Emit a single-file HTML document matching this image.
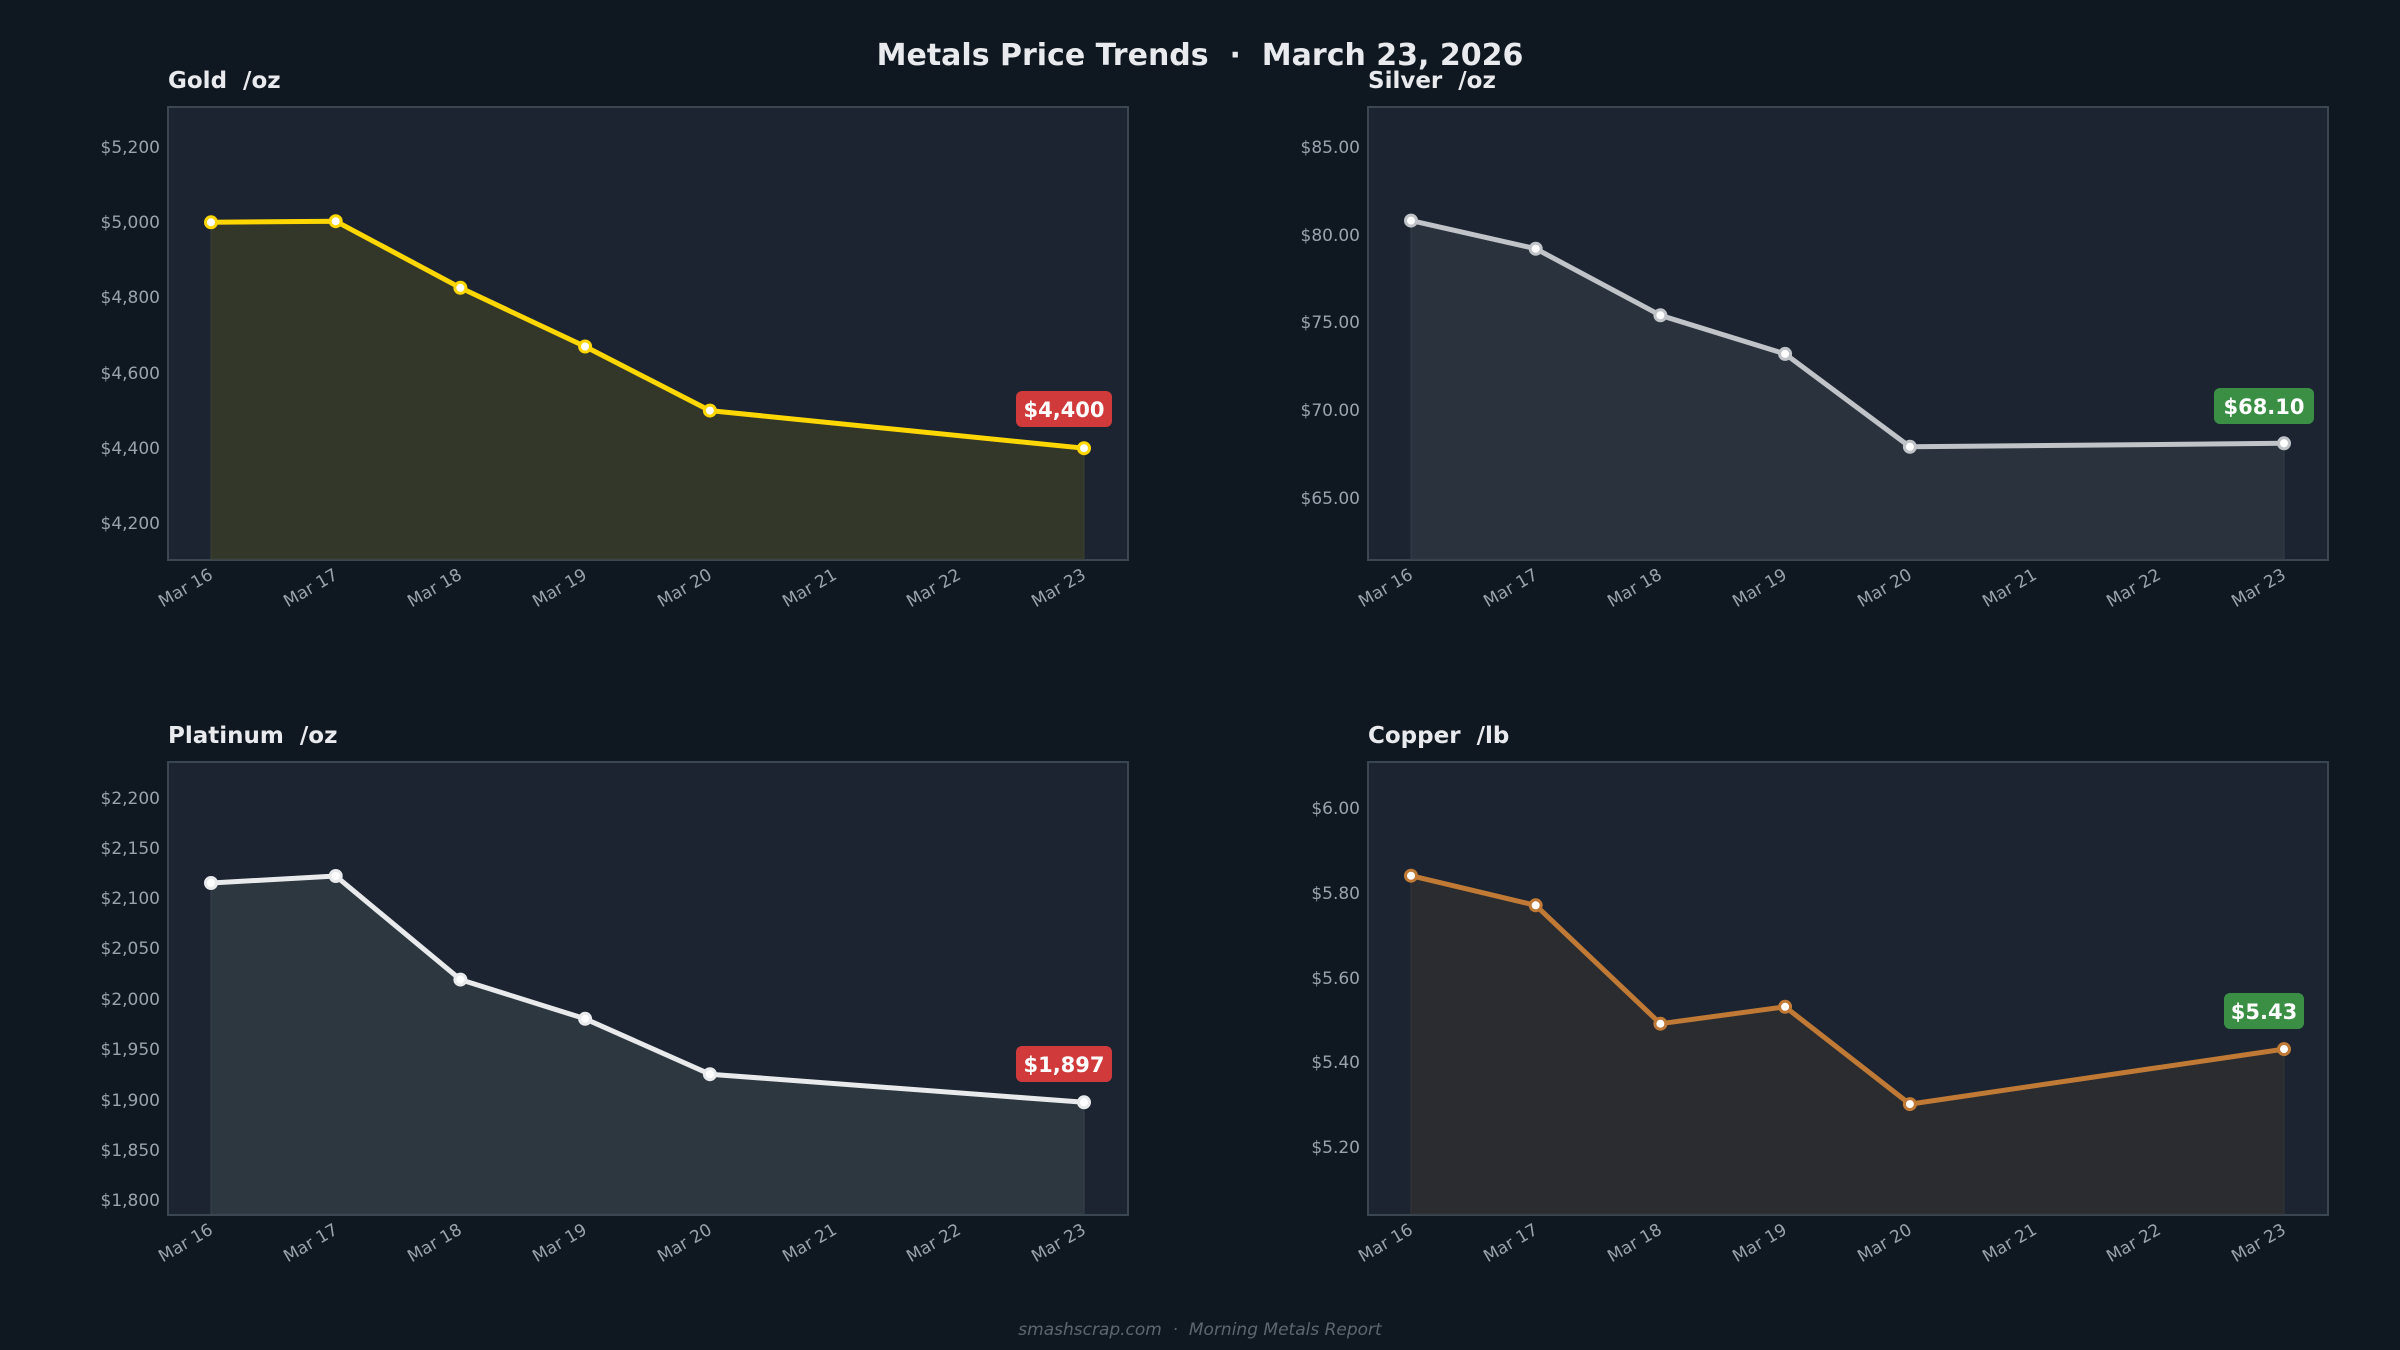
<!DOCTYPE html>
<html><head><meta charset="utf-8"><style>
html,body{margin:0;padding:0;background:#0f1720;}
svg{display:block;}
text{font-family:"DejaVu Sans","Liberation Sans",sans-serif;white-space:pre;}
</style></head><body>
<svg width="2400" height="1350" viewBox="0 0 2400 1350" xmlns="http://www.w3.org/2000/svg" xml:space="preserve">
<rect width="2400" height="1350" fill="#0f1720"/>
<text x="1200" y="65" text-anchor="middle" font-size="30" font-weight="bold" fill="#e8eaed">Metals Price Trends  ·  March 23, 2026</text>
<g fill="#1b2430" stroke="#3a4652" stroke-width="2">
<rect x="168" y="107" width="960" height="453"/>
<rect x="1368" y="107" width="960" height="453"/>
<rect x="168" y="762" width="960" height="453"/>
<rect x="1368" y="762" width="960" height="453"/>
</g>
<g font-size="23" font-weight="bold" fill="#e8eaed">
<text x="168" y="88">Gold  /oz</text>
<text x="1368" y="88">Silver  /oz</text>
<text x="168" y="743">Platinum  /oz</text>
<text x="1368" y="743">Copper  /lb</text>
</g>
<g font-size="17" fill="#9aa3ad" text-anchor="end">
<text x="160" y="153">$5,200</text><text x="160" y="228">$5,000</text><text x="160" y="303">$4,800</text><text x="160" y="379">$4,600</text><text x="160" y="454">$4,400</text><text x="160" y="529">$4,200</text>
<text x="1360" y="153">$85.00</text><text x="1360" y="241">$80.00</text><text x="1360" y="328">$75.00</text><text x="1360" y="416">$70.00</text><text x="1360" y="504">$65.00</text>
<text x="160" y="804">$2,200</text><text x="160" y="854">$2,150</text><text x="160" y="904">$2,100</text><text x="160" y="954">$2,050</text><text x="160" y="1005">$2,000</text><text x="160" y="1055">$1,950</text><text x="160" y="1106">$1,900</text><text x="160" y="1156">$1,850</text><text x="160" y="1206">$1,800</text>
<text x="1360" y="814">$6.00</text><text x="1360" y="899">$5.80</text><text x="1360" y="984">$5.60</text><text x="1360" y="1068">$5.40</text><text x="1360" y="1153">$5.20</text>
</g>
<g font-size="17" fill="#9aa3ad" text-anchor="end">
<g id="xl">
<text transform="translate(214,578) rotate(-30)">Mar 16</text>
<text transform="translate(339,578) rotate(-30)">Mar 17</text>
<text transform="translate(463,578) rotate(-30)">Mar 18</text>
<text transform="translate(588,578) rotate(-30)">Mar 19</text>
<text transform="translate(713,578) rotate(-30)">Mar 20</text>
<text transform="translate(838,578) rotate(-30)">Mar 21</text>
<text transform="translate(962,578) rotate(-30)">Mar 22</text>
<text transform="translate(1087,578) rotate(-30)">Mar 23</text>
</g>
<use href="#xl" x="1200" y="0"/>
<use href="#xl" x="0" y="655"/>
<use href="#xl" x="1200" y="655"/>
</g>
<polygon points="211,222.3 335.7,221.2 460.4,287.8 585.1,346.5 709.9,410.6 1084,448.2 1084,559 211,559" fill="#32372a" stroke="#3a3f33" stroke-width="1"/>
<polyline points="211,222.3 335.7,221.2 460.4,287.8 585.1,346.5 709.9,410.6 1084,448.2" fill="none" stroke="#ffd700" stroke-width="5" stroke-linejoin="round"/>
<g fill="#fff" stroke="#ffd700" stroke-width="3">
<circle cx="211" cy="222.3" r="5.5"/><circle cx="335.7" cy="221.2" r="5.5"/><circle cx="460.4" cy="287.8" r="5.5"/><circle cx="585.1" cy="346.5" r="5.5"/><circle cx="709.9" cy="410.6" r="5.5"/><circle cx="1084" cy="448.2" r="5.5"/>
</g>
<rect x="1016" y="391" width="96" height="36" rx="6" fill="#d03a3a"/>
<text x="1064" y="417" text-anchor="middle" font-size="21" font-weight="bold" fill="#fff">$4,400</text>
<polygon points="1411,220.6 1535.7,248.7 1660.4,315.3 1785.1,353.9 1909.9,446.8 2284,443.3 2284,559 1411,559" fill="#2a333d" stroke="#333c46" stroke-width="1"/>
<polyline points="1411,220.6 1535.7,248.7 1660.4,315.3 1785.1,353.9 1909.9,446.8 2284,443.3" fill="none" stroke="#c0c4c8" stroke-width="5" stroke-linejoin="round"/>
<g fill="#fff" stroke="#c0c4c8" stroke-width="3">
<circle cx="1411" cy="220.6" r="5.5"/><circle cx="1535.7" cy="248.7" r="5.5"/><circle cx="1660.4" cy="315.3" r="5.5"/><circle cx="1785.1" cy="353.9" r="5.5"/><circle cx="1909.9" cy="446.8" r="5.5"/><circle cx="2284" cy="443.3" r="5.5"/>
</g>
<rect x="2214" y="388" width="100" height="36" rx="6" fill="#3a8f45"/>
<text x="2264" y="414" text-anchor="middle" font-size="21" font-weight="bold" fill="#fff">$68.10</text>
<polygon points="211,883 335.7,876 460.4,979.6 585.1,1018.8 709.9,1074.2 1084,1102.3 1084,1214 211,1214" fill="#2d3740" stroke="#38424b" stroke-width="1"/>
<polyline points="211,883 335.7,876 460.4,979.6 585.1,1018.8 709.9,1074.2 1084,1102.3" fill="none" stroke="#e8eaec" stroke-width="5" stroke-linejoin="round"/>
<g fill="#fff" stroke="#e8eaec" stroke-width="3">
<circle cx="211" cy="883" r="5.5"/><circle cx="335.7" cy="876" r="5.5"/><circle cx="460.4" cy="979.6" r="5.5"/><circle cx="585.1" cy="1018.8" r="5.5"/><circle cx="709.9" cy="1074.2" r="5.5"/><circle cx="1084" cy="1102.3" r="5.5"/>
</g>
<rect x="1016" y="1046" width="96" height="36" rx="6" fill="#d03a3a"/>
<text x="1064" y="1072" text-anchor="middle" font-size="21" font-weight="bold" fill="#fff">$1,897</text>
<polygon points="1411,875.7 1535.7,905.3 1660.4,1023.7 1785.1,1006.8 1909.9,1104.1 2284,1049.1 2284,1214 1411,1214" fill="#2b2c2f" stroke="#35363a" stroke-width="1"/>
<polyline points="1411,875.7 1535.7,905.3 1660.4,1023.7 1785.1,1006.8 1909.9,1104.1 2284,1049.1" fill="none" stroke="#c07a35" stroke-width="5" stroke-linejoin="round"/>
<g fill="#fff" stroke="#c07a35" stroke-width="3">
<circle cx="1411" cy="875.7" r="5.5"/><circle cx="1535.7" cy="905.3" r="5.5"/><circle cx="1660.4" cy="1023.7" r="5.5"/><circle cx="1785.1" cy="1006.8" r="5.5"/><circle cx="1909.9" cy="1104.1" r="5.5"/><circle cx="2284" cy="1049.1" r="5.5"/>
</g>
<rect x="2224" y="993" width="80" height="36" rx="6" fill="#3a8f45"/>
<text x="2264" y="1019" text-anchor="middle" font-size="21" font-weight="bold" fill="#fff">$5.43</text>
<text x="1200" y="1335" text-anchor="middle" font-size="17" font-style="italic" fill="#5d6670">smashscrap.com  ·  Morning Metals Report</text>
</svg>
</body></html>
